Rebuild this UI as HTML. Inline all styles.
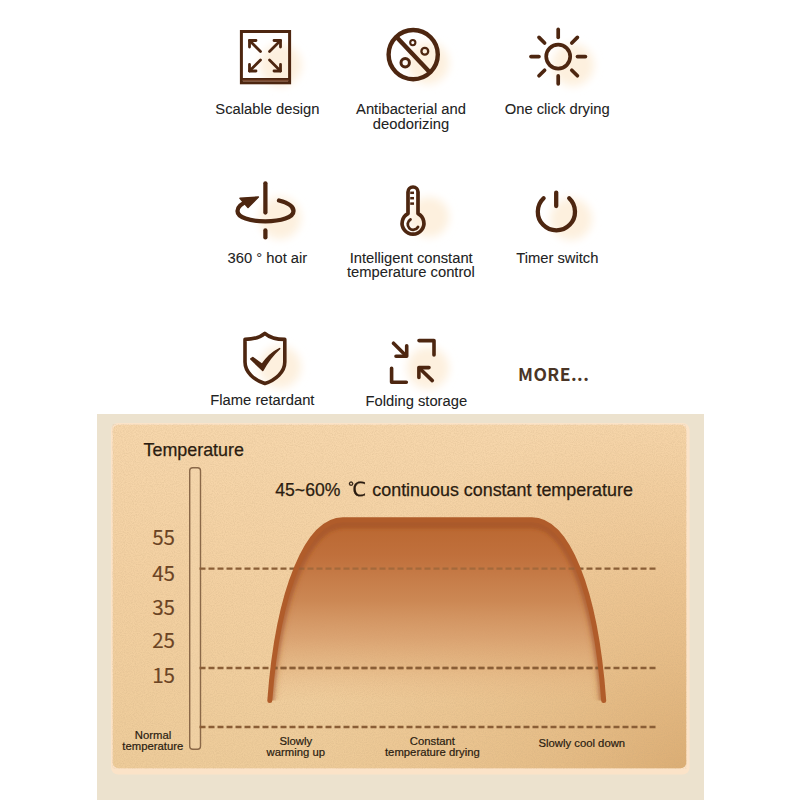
<!DOCTYPE html>
<html><head><meta charset="utf-8"><title>Features</title>
<style>
html,body{margin:0;padding:0;background:#fff;width:800px;height:800px;overflow:hidden}
svg{display:block}
.lbl{font-family:"Liberation Sans",Arial,sans-serif;font-size:14.75px;fill:#222;stroke:#222;stroke-width:0.08px}
.ch{font-family:"Liberation Sans",Arial,sans-serif;fill:#2b1c10;stroke:#2b1c10;stroke-width:0.25px}
.num{font-family:"Noto Sans CJK SC",sans-serif;font-size:20.6px;fill:#6b4424;stroke:#6b4424;stroke-width:0.15px}
.sm{font-family:"Liberation Sans",Arial,sans-serif;font-size:11.3px;fill:#2a1c10;stroke:#2a1c10;stroke-width:0.2px}
.ic{fill:none;stroke:#4d2610;stroke-linecap:round;stroke-linejoin:round}
</style></head>
<body>
<svg width="800" height="800" viewBox="0 0 800 800">
<defs>
  <filter id="grain" x="0" y="0" width="100%" height="100%">
    <feTurbulence type="fractalNoise" baseFrequency="0.9" numOctaves="2" seed="3" result="n"/>
    <feColorMatrix in="n" type="matrix" values="0 0 0 0 0.55  0 0 0 0 0.38  0 0 0 0 0.2  0 0 0 -1.6 1.05"/>
  </filter>
  <filter id="blur3" x="-10%" y="-10%" width="120%" height="120%"><feGaussianBlur stdDeviation="1.8"/></filter>
  <filter id="blur2" x="-10%" y="-10%" width="120%" height="120%"><feGaussianBlur stdDeviation="2.5"/></filter>
  <filter id="blur" x="-50%" y="-50%" width="200%" height="200%"><feGaussianBlur stdDeviation="4"/></filter>
  <linearGradient id="panelv" x1="0" y1="0" x2="0" y2="1">
    <stop offset="0" stop-color="#f7d7ac"/>
    <stop offset="0.5" stop-color="#f3d0a1"/>
    <stop offset="1" stop-color="#eecc9a"/>
  </linearGradient>
  <radialGradient id="panelr" gradientUnits="userSpaceOnUse" cx="700" cy="790" r="400">
    <stop offset="0" stop-color="#cc9455" stop-opacity="0.6"/>
    <stop offset="0.4" stop-color="#d49c5c" stop-opacity="0.3"/>
    <stop offset="1" stop-color="#e0a868" stop-opacity="0"/>
  </radialGradient>
  <linearGradient id="fillg" x1="0" y1="519" x2="0" y2="702" gradientUnits="userSpaceOnUse">
    <stop offset="0" stop-color="#b9662f" stop-opacity="1"/>
    <stop offset="0.2" stop-color="#c0703c" stop-opacity="1"/>
    <stop offset="0.45" stop-color="#cb8652" stop-opacity="0.97"/>
    <stop offset="0.65" stop-color="#d69a68" stop-opacity="0.82"/>
    <stop offset="0.8" stop-color="#dca672" stop-opacity="0.52"/>
    <stop offset="0.92" stop-color="#e2b07e" stop-opacity="0.2"/>
    <stop offset="1" stop-color="#e8b47e" stop-opacity="0"/>
  </linearGradient>
  <path id="crv" d="M 269.8 700.5 C 278.2 587.1 308.2 519.8 343 519.8 L 531.8 519.8 C 566.6 519.8 595.6 587.1 603.7 700.5"/>
</defs>

<!-- glows -->
<g fill="#fdf0de" filter="url(#blur)">
  <circle cx="280.5" cy="65" r="21"/>
  <circle cx="428" cy="63" r="21"/>
  <circle cx="573" cy="65" r="21"/>
  <circle cx="280" cy="218" r="21"/>
  <circle cx="429" cy="217" r="20"/>
  <circle cx="571" cy="219" r="21"/>
  <circle cx="280" cy="367" r="21"/>
  <circle cx="428" cy="368" r="21"/>
</g>

<!-- Icon 1: scalable -->
<g class="ic" stroke-width="3">
  <rect x="241.4" y="31.5" width="48.2" height="51.3" stroke-linecap="butt" stroke-linejoin="miter"/>
  <rect x="242.9" y="78" width="45.2" height="3.5" fill="#7b4a30" stroke="none"/><line x1="242" y1="78.9" x2="289" y2="78.9" stroke-width="1.8" stroke-linecap="butt"/>
  <g stroke-width="2.8">
    <path d="M249.5 47 V40.5 H256"/><line x1="249.5" y1="40.5" x2="260.5" y2="51.5"/>
    <path d="M274 40.5 H280.5 V47"/><line x1="280.5" y1="40.5" x2="269.5" y2="51.5"/>
    <path d="M249.5 64.5 V71 H256"/><line x1="249.5" y1="71" x2="260.5" y2="60"/>
    <path d="M274 71 H280.5 V64.5"/><line x1="280.5" y1="71" x2="269.5" y2="60"/>
  </g>
</g>

<!-- Icon 2: antibacterial -->
<g class="ic">
  <circle cx="413.2" cy="54.6" r="24.6" stroke-width="4.4"/>
  <line x1="396.5" y1="37" x2="430" y2="72.5" stroke-width="4.4" stroke-linecap="butt"/>
  <circle cx="412.8" cy="42.6" r="2.6" stroke-width="2.1"/>
  <circle cx="424.8" cy="51.2" r="3.4" stroke-width="2.3"/>
  <circle cx="405.2" cy="62.8" r="4.2" stroke-width="3"/>
</g>

<!-- Icon 3: sun -->
<g class="ic" stroke-width="3.7">
  <circle cx="558.2" cy="56.6" r="12"/>
  <g transform="translate(558.2 56.6)">
    <line x1="0" y1="-19.3" x2="0" y2="-27.2"/>
    <line x1="0" y1="19.3" x2="0" y2="27.2"/>
    <line x1="-19.3" y1="0" x2="-27.2" y2="0"/>
    <line x1="19.3" y1="0" x2="27.2" y2="0"/>
    <line x1="-13.6" y1="-13.6" x2="-19.2" y2="-19.2"/>
    <line x1="13.6" y1="-13.6" x2="19.2" y2="-19.2"/>
    <line x1="-13.6" y1="13.6" x2="-19.2" y2="19.2"/>
    <line x1="13.6" y1="13.6" x2="19.2" y2="19.2"/>
  </g>
</g>

<!-- Icon 4: 360 hot air -->
<g class="ic" stroke-width="4.3">
  <line x1="265.4" y1="183.3" x2="265.4" y2="212.5"/>
  <line x1="265.4" y1="230.5" x2="265.4" y2="237.4"/>
  <path d="M279 200.5 C 289 203, 293.5 207, 293.5 211 C 293.5 217.5, 281 221.3, 265.4 221.3 C 249.8 221.3, 237.5 217.5, 237.5 211 C 237.5 207, 241.5 203.5, 248 201"/>
  <path d="M240 198.3 L258.4 197 L248 207.5 Z" fill="#4d2610" stroke-width="1.5"/>
</g>

<!-- Icon 5: thermometer -->
<g class="ic" stroke-width="3.7">
  <path d="M408 213.6 V192 A5 5 0 0 1 418 192 V213.6 A10.9 10.9 0 1 1 408 213.6 Z"/>
  <g stroke-width="2.5" stroke-linecap="butt">
    <line x1="410.2" y1="192.8" x2="414" y2="192.8"/>
    <line x1="410.2" y1="198.2" x2="414" y2="198.2"/>
    <line x1="410.2" y1="203.6" x2="414" y2="203.6"/>
  </g>
  <path d="M410.5 219.5 A5.5 5.5 0 1 0 418 227" stroke-width="2.8"/>
</g>

<!-- Icon 6: power -->
<g class="ic" stroke-width="4.3">
  <path d="M543.6 198.3 A18.6 18.6 0 1 0 569.2 198.3"/>
  <line x1="556.2" y1="192.6" x2="556.2" y2="206.1"/>
</g>

<!-- Icon 7: shield -->
<g class="ic" stroke-width="3.6">
  <path d="M264.8 333.3 C 260 337.5, 252 339.4, 245 339.4 V 362 C 245 372, 254 380, 264.8 383.5 C 275.6 380, 284.8 372, 284.8 362 V 339.4 C 277.6 339.4, 269.6 337.5, 264.8 333.3 Z"/>
  <path d="M250.8 359 L252.8 357.6 L262 364.5 C 267 357, 272.5 352, 279.6 348.6 C 273 354.5, 267.5 361.5, 262.8 370.5 Z" fill="#4d2610" stroke-width="1.6"/>
</g>

<!-- Icon 8: folding -->
<g class="ic" stroke-width="3.6">
  <line x1="393.5" y1="343.2" x2="405.5" y2="355.2"/>
  <path d="M406.7 345.7 V356.3 H396"/>
  <path d="M419 340.6 H434 V355"/>
  <path d="M391.6 368.2 V382.3 H406.3"/>
  <path d="M418.9 377.5 V367.6 H429"/>
  <line x1="420" y1="368.7" x2="432.3" y2="380.6"/>
</g>

<!-- labels -->
<g class="lbl" text-anchor="middle">
  <text x="267.4" y="114.2">Scalable design</text>
  <text x="411" y="114.2">Antibacterial and</text>
  <text x="411" y="128.6">deodorizing</text>
  <text x="557.2" y="114.2">One click drying</text>
  <text x="267.4" y="262.9">360 ° hot air</text>
  <text x="411.2" y="262.5">Intelligent constant</text>
  <text x="410.9" y="277">temperature control</text>
  <text x="557.3" y="262.9">Timer switch</text>
  <text x="262.4" y="405.4">Flame retardant</text>
  <text x="416.3" y="405.6">Folding storage</text>
</g>
<text x="518" y="381.2" style="font-family:'Noto Sans CJK SC','Liberation Sans',sans-serif;font-weight:700;font-size:17.5px;fill:#4a3526;letter-spacing:0.45px">MORE...</text>

<!-- chart -->
<rect x="97" y="414" width="607" height="386" fill="#ece2ce"/>
<rect x="111" y="423" width="578.6" height="351.5" rx="7" fill="#fbe3c8"/>
<rect x="112.8" y="424.8" width="573.4" height="343.4" rx="5.5" fill="url(#panelv)"/>
<rect x="112.8" y="424.8" width="573.4" height="343.4" rx="5.5" fill="url(#panelr)"/>
<rect x="112.8" y="424.8" width="573.4" height="343.4" rx="5.5" filter="url(#grain)" opacity="0.3"/>

<text class="ch" x="143.5" y="456" style="font-size:17.9px">Temperature</text>
<rect x="189.7" y="467.7" width="10.8" height="281.6" rx="3" fill="#f3d6b0" fill-opacity="0.4" stroke="#8a6848" stroke-width="1.4"/>
<g class="num" text-anchor="middle">
  <text x="163.6" y="544.8">55</text>
  <text x="163.6" y="581.2">45</text>
  <text x="163.6" y="615">35</text>
  <text x="163.6" y="647.7">25</text>
  <text x="163.6" y="682.5">15</text>
</g>
<text class="ch" x="275.3" y="495.7" style="font-size:17.6px">45~60%</text>
<text class="ch" x="348" y="495.6" style="font-size:19.5px;font-family:'WenQuanYi Zen Hei',sans-serif">℃</text>
<text class="ch" x="372.3" y="495.7" style="font-size:17.9px">continuous constant temperature</text>

<g stroke="#8a5e36" stroke-width="2.4" stroke-dasharray="6 3" fill="none">
  <line x1="199.5" y1="568.6" x2="658" y2="568.6"/>
  <line x1="199.5" y1="668" x2="658" y2="668"/>
  <line x1="199.5" y1="727" x2="658" y2="727"/>
</g>

<use href="#crv" fill="url(#fillg)"/>
<clipPath id="cclip"><use href="#crv"/></clipPath>
<g clip-path="url(#cclip)">
  <use href="#crv" fill="none" stroke="#a4531f" stroke-opacity="0.18" stroke-width="14" filter="url(#blur2)"/>
  <use href="#crv" fill="none" stroke="#9a4c1e" stroke-opacity="0.45" stroke-width="8" transform="translate(0 5)" filter="url(#blur3)"/>
</g>
<g stroke="#8a5e36" stroke-width="2.4" stroke-dasharray="6 3" fill="none" clip-path="url(#cclip)">
  <line x1="199.5" y1="568.6" x2="658" y2="568.6" opacity="0.55"/>
  <line x1="199.5" y1="668" x2="658" y2="668"/>
</g>
<use href="#crv" fill="none" stroke="#b05c2a" stroke-width="5" stroke-linecap="round"/>

<g class="sm" text-anchor="middle">
  <text x="153" y="738.8">Normal</text>
  <text x="152.8" y="749.6">temperature</text>
  <text x="295.8" y="744.5">Slowly</text>
  <text x="295.8" y="755.6">warming up</text>
  <text x="432.4" y="744.5">Constant</text>
  <text x="432.4" y="755.7">temperature drying</text>
  <text x="581.8" y="747.2">Slowly cool down</text>
</g>
</svg>
</body></html>
